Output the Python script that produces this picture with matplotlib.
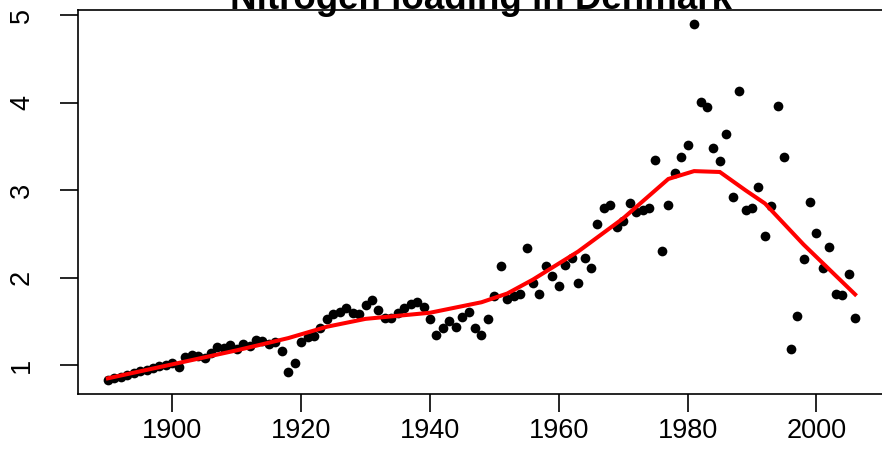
import numpy as np
import matplotlib
matplotlib.use("Agg")
import matplotlib.pyplot as plt

plt.rcParams['font.family'] = ['Liberation Sans', 'DejaVu Sans']

# yearly nitrogen loading
years = np.arange(1890, 2007)
loading = [
    0.83, 0.85, 0.87, 0.89, 0.91, 0.93, 0.95, 0.97, 0.99, 1.00,   # 1890-1899
    1.03, 0.98, 1.09, 1.12, 1.11, 1.08, 1.14, 1.21, 1.20, 1.23,   # 1900-1909
    1.18, 1.24, 1.22, 1.29, 1.28, 1.24, 1.26, 1.16, 0.92, 1.02,   # 1910-1919
    1.26, 1.32, 1.33, 1.43, 1.53, 1.58, 1.61, 1.66, 1.60, 1.59,   # 1920-1929
    1.69, 1.75, 1.63, 1.54, 1.54, 1.60, 1.65, 1.70, 1.72, 1.67,   # 1930-1939
    1.53, 1.34, 1.42, 1.51, 1.44, 1.55, 1.61, 1.42, 1.34, 1.53,   # 1940-1949
    1.79, 2.13, 1.76, 1.79, 1.82, 2.34, 1.94, 1.82, 2.14, 2.02,   # 1950-1959
    1.91, 2.15, 2.23, 1.94, 2.23, 2.11, 2.62, 2.80, 2.83, 2.58,   # 1960-1969
    2.65, 2.85, 2.75, 2.77, 2.80, 3.35, 2.31, 2.83, 3.20, 3.38,   # 1970-1979
    3.52, 4.90, 4.01, 3.95, 3.48, 3.33, 3.64, 2.92, 4.14, 2.77,   # 1980-1989
    2.80, 3.04, 2.48, 2.82, 3.96, 3.38, 1.18, 1.56, 2.21, 2.87,   # 1990-1999
    2.51, 2.11, 2.35, 1.81, 1.80, 2.04, 1.54,                     # 2000-2006
]

# smoothed trend (red line)
trend_years = [1890, 1900, 1910, 1918, 1924, 1930, 1940, 1948, 1952, 1956,
               1963, 1970, 1977, 1981, 1985, 1989, 1992, 1998, 2006]
trend_vals = [0.85, 1.01, 1.17, 1.31, 1.44, 1.53, 1.60, 1.72, 1.82, 1.98,
              2.30, 2.68, 3.13, 3.22, 3.21, 3.00, 2.85, 2.38, 1.81]

W, H = 882, 466
fig = plt.figure(figsize=(W / 100, H / 100), dpi=100)
ax = fig.add_axes([78 / W, (H - 394.3) / H, (885 - 78) / W, (394.3 - 10) / H])

ax.plot(years, loading, 'o', color='black', markersize=7, markeredgewidth=0)
ax.plot(trend_years, trend_vals, '-', color='red', linewidth=2.9, solid_joinstyle='miter')

# R style 4% padding
xr = years[-1] - years[0]
ax.set_xlim(years[0] - 0.04 * xr, years[-1] + 0.04 * xr)
yr = max(loading) - min(loading)
ax.set_ylim(min(loading) - 0.04 * yr, max(loading) + 0.04 * yr)

ax.set_xticks([1900, 1920, 1940, 1960, 1980, 2000])
ax.set_yticks([1, 2, 3, 4, 5])
for s in ax.spines.values():
    s.set_linewidth(1.2)
ax.tick_params(axis='x', length=13, width=1.2, pad=4, labelsize=19.5)
ax.tick_params(axis='y', length=13, width=1.2, pad=18, labelsize=19.5)
plt.setp(ax.get_yticklabels(), rotation=90, va='center')

fig.text(481.5 / W, (H - 9) / H, 'Nitrogen loading in Denmark', ha='center',
         va='baseline', fontsize=26.5, fontweight='bold')

fig.savefig('out.png', dpi=100)
